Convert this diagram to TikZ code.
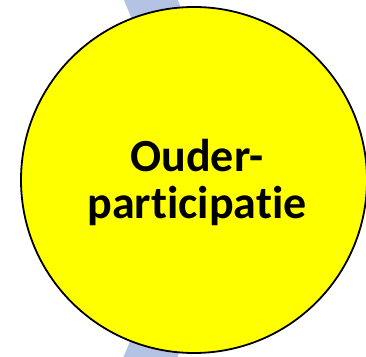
\documentclass[tikz,border=0pt]{standalone}
\usepackage{fontspec}
\setmainfont[Ligatures={NoCommon}]{Carlito}
\definecolor{bandblue}{RGB}{180,194,228}
\definecolor{circyellow}{RGB}{255,255,0}
\begin{document}
\begin{tikzpicture}[x=1pt,y=1pt,
  band/.style={draw=bandblue,line width=50pt},
  bubble/.style={circle,draw=black,line width=1.8pt,fill=circyellow,minimum size=346pt,inner sep=0pt},
  label/.style={font=\fontsize{46}{47}\selectfont\bfseries,align=center,text=black}]
\useasboundingbox (0,0) rectangle (366,356);
\begin{scope}
\clip (0,0) rectangle (366,356);
\coordinate (ringc) at (-284,178);
\draw[band] ([shift={(-25:470)}]ringc) arc[start angle=-25,end angle=25,radius=470];
\node[bubble] (circ) at (194,176) {};
\end{scope}
\node[label] (txt) at (197,174) {Ouder-\\participatie};
\end{tikzpicture}
\end{document}
